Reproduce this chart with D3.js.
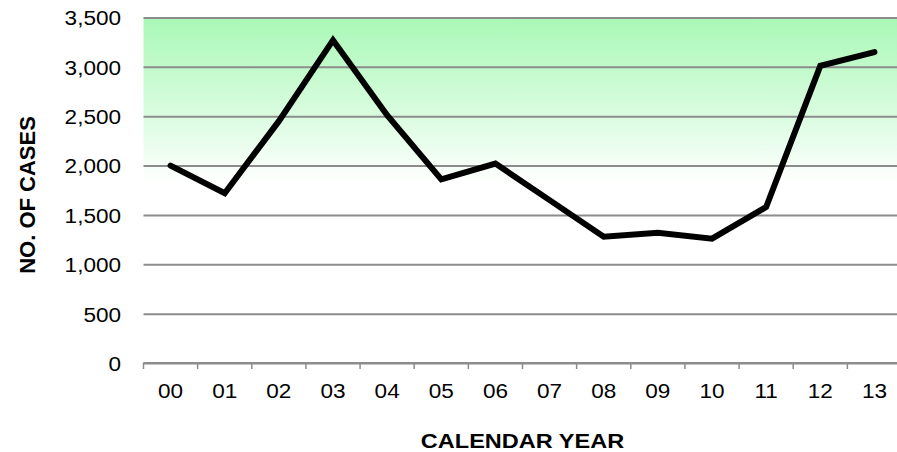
<!DOCTYPE html>
<html>
<head>
<meta charset="utf-8">
<script src="https://cdn.jsdelivr.net/npm/d3@7"></script>
<style>
  body { margin: 0; background: #fff; }
  text { font-family: "Liberation Sans", Arial, sans-serif; }
</style>
</head>
<body>
<div id="chart"></div>
<script>
// Data
const years = ["00", "01", "02", "03", "04", "05", "06", "07", "08", "09", "10", "11", "12", "13"];
const cases = [2000, 1720, 2450, 3270, 2510, 1860, 2020, 1650, 1280, 1320, 1260, 1580, 3010, 3150];
const yTicks = [0, 500, 1000, 1500, 2000, 2500, 3000, 3500];

const width = 897;
const height = 452;
const margin = { top: 17.5, right: -4.5, bottom: 89, left: 143.5 };
const stretch = 1.1; // the glyphs in the picture are a bit wide

const svg = d3.select("#chart")
  .append("svg")
  .attr("width", width)
  .attr("height", height);

// Scales
const x = d3.scaleBand()
  .domain(years)
  .range([margin.left, width - margin.right]);

const y = d3.scaleLinear()
  .domain([0, 3500])
  .range([height - margin.bottom, margin.top]);

// Green fade behind the top half of the plot
const grad = svg.append("defs").append("linearGradient")
  .attr("id", "bg")
  .attr("x1", 0).attr("y1", 0).attr("x2", 0).attr("y2", 1);
grad.append("stop").attr("offset", "0%").attr("stop-color", "#a9f8b6");
grad.append("stop").attr("offset", "25%").attr("stop-color", "#d4fcdb");
grad.append("stop").attr("offset", "48%").attr("stop-color", "#ffffff");
grad.append("stop").attr("offset", "100%").attr("stop-color", "#ffffff");

svg.append("rect")
  .attr("x", margin.left)
  .attr("y", y(3500))
  .attr("width", width - margin.left)
  .attr("height", y(0) - y(3500))
  .attr("fill", "url(#bg)");

// Y axis: gridlines and labels, no domain line
svg.append("g")
  .attr("transform", `translate(${margin.left},0)`)
  .call(d3.axisLeft(y)
    .tickValues(yTicks)
    .tickSize(-(width - margin.left))
    .tickFormat(d3.format(",")))
  .call((g) => g.select(".domain").remove())
  .call((g) => g.selectAll(".tick line")
    .attr("stroke", "#8c8c8c")
    .attr("stroke-width", 2))
  .call((g) => g.selectAll(".tick text")
    .attr("x", -22.5 / stretch)
    .attr("dy", "0.36em")
    .attr("transform", `scale(${stretch},1)`)
    .attr("font-size", "20.5px")
    .attr("fill", "#000"));

// X axis: labels in the band centres
svg.append("g")
  .attr("transform", `translate(0,${y(0)})`)
  .call(d3.axisBottom(x).tickSize(0))
  .call((g) => g.select(".domain").remove())
  .call((g) => g.selectAll(".tick text")
    .attr("y", 0)
    .attr("dy", "35px")
    .attr("transform", `scale(${stretch},1)`)
    .attr("font-size", "20.5px")
    .attr("fill", "#000"));

// Baseline and tick marks between the bands
svg.append("line")
  .attr("x1", margin.left)
  .attr("x2", width)
  .attr("y1", y(0))
  .attr("y2", y(0))
  .attr("stroke", "#8c8c8c")
  .attr("stroke-width", 2);

svg.append("g")
  .selectAll("line")
  .data(years)
  .enter()
  .append("line")
    .attr("x1", (d) => x(d))
    .attr("x2", (d) => x(d))
    .attr("y1", y(0))
    .attr("y2", y(0) + 6)
    .attr("stroke", "#8c8c8c")
    .attr("stroke-width", 1.5);

// The line
const line = d3.line()
  .x((d, i) => x(years[i]) + x.bandwidth() / 2)
  .y((d) => y(d));

svg.append("path")
  .datum(cases)
  .attr("d", line)
  .attr("fill", "none")
  .attr("stroke", "#000")
  .attr("stroke-width", 6)
  .attr("stroke-linecap", "round")
  .attr("stroke-linejoin", "miter");

// Axis titles
svg.append("text")
  .attr("transform", `translate(${(margin.left + 901.5) / 2},448) scale(1.12,1)`)
  .attr("text-anchor", "middle")
  .attr("font-size", "21px")
  .attr("font-weight", "bold")
  .text("CALENDAR YEAR");

svg.append("text")
  .attr("transform", "translate(35,195) rotate(-90)")
  .attr("text-anchor", "middle")
  .attr("font-size", "22px")
  .attr("font-weight", "bold")
  .text("NO. OF CASES");
</script>
</body>
</html>
